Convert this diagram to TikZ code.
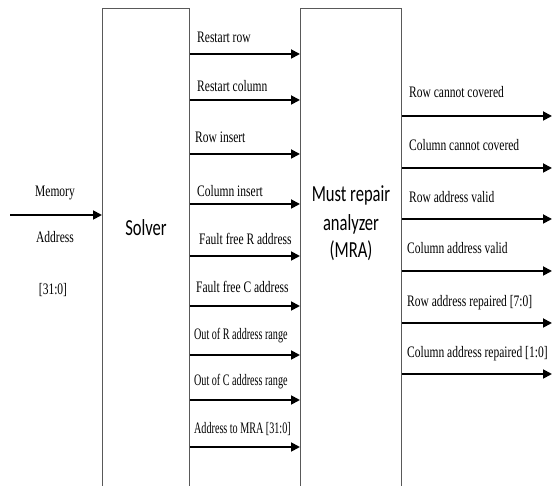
\documentclass[tikz,border=0pt]{standalone}
\usepackage{fontspec}
\setmainfont{Liberation Serif}[FakeStretch=0.72]
\newfontfamily\blockfont{Carlito}[FakeStretch=0.72]
\usetikzlibrary{arrows.meta}
\tikzset{
  box/.style={draw=black!65, line width=1.3pt, inner sep=0pt, anchor=north west},
  sig/.style={line width=1.8pt, -{Triangle[length=9pt,width=9pt]}},
  lab/.style={anchor=base west, inner sep=0pt, font=\fontsize{16}{19}\selectfont},
  clab/.style={anchor=base, inner sep=0pt, font=\fontsize{16}{19}\selectfont},
  blk/.style={anchor=base, inner sep=0pt, font=\blockfont\fontsize{23}{28}\selectfont},
}
\begin{document}
\begin{tikzpicture}[x=1pt,y=-1pt]
\useasboundingbox (0,0) rectangle (552,486);
\clip (0,0) rectangle (552,486);
\fill[white] (0,0) rectangle (552,486);
% boxes
\node[box, minimum width=87pt, minimum height=520pt] (solver) at (102,8) {};
\node[box, minimum width=101pt, minimum height=520pt] (mra) at (300,8) {};
\node[blk] (solvertxt) at (146,236) {Solver};
\node[blk] (mra1) at (351,202) {Must repair};
\node[blk] (mra2) at (351,231) {analyzer};
\node[blk] (mra3) at (351,258) {(MRA)};
% input
\coordinate (inp) at (10,215);
\draw[sig] (inp) -- (solver.west |- inp);
\node[clab] (mem1) at (55,197) {Memory};
\node[clab] (mem2) at (55,243) {Address};
\node[clab] (mem3) at (53,295) {[31:0]};
% solver -> MRA
\foreach \y/\by/\bx/\xs/\t [count=\i] in {
  54/43/197/1/{Restart row},
  100/92/197/1/{Restart column},
  154/143/195/1/{Row insert},
  204/197/197/1/{Column insert},
  256/245/199/1/{Fault free R address},
  306/293/196/1/{Fault free C address},
  355/340/194/0.88/{Out of R address range},
  400/386/194/0.88/{Out of C address range},
  447/434/194/0.88/{Address to MRA [31:0]}}{
  \coordinate (s\i) at (0,\y);
  \draw[sig] (solver.east |- s\i) -- (mra.west |- s\i);
  \node[lab, xscale=\xs] (sl\i) at (\bx,\by) {\t};
}
% MRA outputs
\coordinate (rightedge) at (552,0);
\foreach \y/\by/\bx/\t [count=\i] in {
  116/98/409/{Row cannot covered},
  168/151/409/{Column cannot covered},
  219/203/409/{Row address valid},
  271/254/407/{Column address valid},
  323/307/407/{Row address repaired [7:0]},
  374/358/407/{Column address repaired [1:0]}}{
  \coordinate (o\i) at (0,\y);
  \draw[sig] (mra.east |- o\i) -- (rightedge |- o\i);
  \node[lab] (ol\i) at (\bx,\by) {\t};
}
\end{tikzpicture}
\end{document}
